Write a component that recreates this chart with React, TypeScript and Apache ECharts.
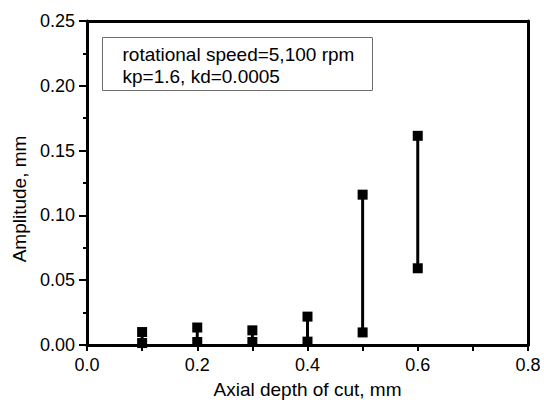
import React, { useEffect, useRef } from "react";
import * as echarts from "echarts";

const depths = [0.1, 0.2, 0.3, 0.4, 0.5, 0.6];
const ampMin = [0.0015, 0.0023, 0.0023, 0.0026, 0.0097, 0.0592];
const ampMax = [0.01, 0.0135, 0.0113, 0.0219, 0.116, 0.1614];

const xTitle = "Axial depth of cut, mm";
const yTitle = "Amplitude, mm";
const noteLines = ["rotational speed=5,100 rpm", "kp=1.6, kd=0.0005"];

const FONT = "'Liberation Sans', Arial, Helvetica, sans-serif";

const mkAxisLine = () => ({
  show: true,
  onZero: false,
  lineStyle: { color: "#000000", width: 3, opacity: 1 },
});

export default function App() {
  const ref = useRef<HTMLDivElement>(null);

  useEffect(() => {
    if (!ref.current) return;
    const chart = echarts.init(ref.current, undefined, { renderer: "svg" });

    const series = depths.map((d, i) => ({
      type: "line",
      xAxisIndex: 0,
      yAxisIndex: 0,
      data: [
        [d, ampMin[i]],
        [d, ampMax[i]],
      ],
      symbol: "rect",
      symbolSize: 10,
      showSymbol: true,
      clip: false,
      lineStyle: { color: "#000", width: 3 },
      itemStyle: { color: "#000" },
      z: 3,
    }));

    chart.setOption({
      animation: false,
      backgroundColor: "#fff",
      textStyle: { fontFamily: FONT },
      grid: {
        left: 87,
        right: 16,
        top: 21,
        bottom: 60,
        containLabel: false,
        outerBoundsMode: "none",
      },
      xAxis: [
        {
          type: "value",
          min: 0,
          max: 0.8,
          interval: 0.1,
          position: "bottom",
          axisLine: mkAxisLine(),
          axisTick: { show: true, inside: false, length: 6, lineStyle: { color: "#000000", width: 2, opacity: 1 } },
          axisLabel: {
            show: true,
            margin: 11,
            fontSize: 18,
            color: "#000",
            fontFamily: FONT,
            formatter: (v: number) => {
              const t = Math.round(v * 10);
              return t % 2 === 0 ? (t / 10).toFixed(1) : "";
            },
          },
          splitLine: { show: false },
          name: xTitle,
          nameLocation: "middle",
          nameGap: 35,
          nameTextStyle: { fontSize: 19, color: "#000", fontFamily: FONT },
        },
        {
          type: "value",
          min: 0,
          max: 0.8,
          interval: 0.1,
          position: "top",
          axisLine: mkAxisLine(),
          axisTick: { show: false },
          axisLabel: { show: false },
          splitLine: { show: false },
        },
      ],
      yAxis: [
        {
          type: "value",
          min: 0,
          max: 0.25,
          interval: 0.05,
          position: "left",
          axisLine: mkAxisLine(),
          axisTick: { show: true, inside: false, length: 8, lineStyle: { color: "#000000", width: 2, opacity: 1 } },
          minorTick: { show: true, splitNumber: 2, length: 4, lineStyle: { color: "#000000", width: 2, opacity: 1 } },
          axisLabel: {
            show: true,
            margin: 12,
            fontSize: 18,
            color: "#000",
            fontFamily: FONT,
            formatter: (v: number) => v.toFixed(2),
          },
          splitLine: { show: false },
          minorSplitLine: { show: false },
        },
        {
          type: "value",
          min: 0,
          max: 0.25,
          interval: 0.05,
          position: "right",
          axisLine: mkAxisLine(),
          axisTick: { show: false },
          axisLabel: { show: false },
          splitLine: { show: false },
        },
      ],
      graphic: [
        {
          type: "text",
          x: 19,
          y: 199,
          rotation: Math.PI / 2,
          style: {
            text: yTitle,
            fontSize: 19,
            fontFamily: FONT,
            fill: "#000",
            align: "center",
            verticalAlign: "middle",
          },
        },
        {
          type: "rect",
          shape: { x: 102.5, y: 37.5, width: 270, height: 53 },
          style: { fill: "#fff", stroke: "#6e6e6e", lineWidth: 1 },
          z: 10,
        },
        {
          type: "text",
          x: 122.5,
          y: 54,
          z: 11,
          style: {
            text: noteLines[0],
            fontSize: 19,
            fontFamily: FONT,
            fill: "#000",
            align: "left",
            verticalAlign: "middle",
          },
        },
        {
          type: "text",
          x: 122.5,
          y: 76,
          z: 11,
          style: {
            text: noteLines[1],
            fontSize: 19,
            fontFamily: FONT,
            fill: "#000",
            align: "left",
            verticalAlign: "middle",
          },
        },
      ],
      series,
    });

    return () => chart.dispose();
  }, []);

  return (
    <div
      ref={ref}
      style={{ position: "fixed", left: 0, top: 0, width: 544, height: 405, background: "#fff" }}
    />
  );
}
